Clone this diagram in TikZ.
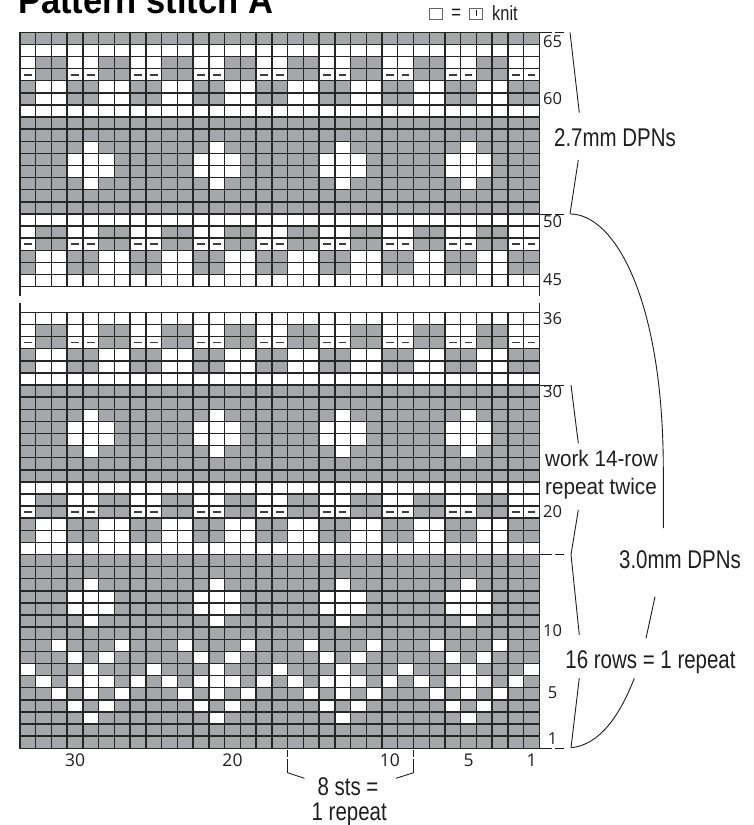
\documentclass[tikz,border=0pt]{standalone}
\usepackage{fontspec}
\setmainfont{Liberation Sans}
\newfontfamily\narrowf[FakeStretch=0.80]{Liberation Sans}
\newfontfamily\midf[FakeStretch=0.92]{Liberation Sans}
\newfontfamily\numf{Open Sans}
\newfontfamily\titlef[FakeStretch=0.92]{Liberation Sans Bold}
\definecolor{cellgray}{RGB}{166,167,170}
\definecolor{gridcol}{RGB}{38,38,38}
\definecolor{inkcol}{RGB}{30,30,30}
\definecolor{purlcol}{RGB}{60,60,60}
\definecolor{legcol}{RGB}{100,100,100}
% one chart row: #1 = row number, #2..#9 = cell type for column mod 8 (g grey, w white, d purl)
\newcommand\patrow[9]{%
  \pgfmathsetmacro\rowtop{(#1>40 ? 819.45 : 748.3) - 12.11*#1}%
  \foreach \col in {0,...,32}{%
    \pgfmathtruncatemacro\colmod{mod(\col,8)}%
    \ifcase\colmod\def\celltype{#2}\or\def\celltype{#3}\or\def\celltype{#4}\or\def\celltype{#5}\or\def\celltype{#6}\or\def\celltype{#7}\or\def\celltype{#8}\or\def\celltype{#9}\fi
    \if g\celltype\else
      \fill[white] (20+\col*15.74,\rowtop) rectangle ++(15.74,12.11);
      \if d\celltype
        \draw[purlmark] (20+\col*15.74+4.07,\rowtop+6.05) -- ++(7.6,0);
      \fi
    \fi
  }%
}
\begin{document}
\begin{tikzpicture}[x=1pt,y=-1pt,
  gridl/.style={draw=gridcol, line width=1.45},
  purlmark/.style={draw=purlcol, line width=1.7},
  bracketline/.style={draw=inkcol, line width=0.9},
  tickline/.style={draw=inkcol, line width=0.9, dash pattern=on 12.4pt off 3.3pt},
  lab/.style={font=\narrowf\fontsize{25.6}{30}\selectfont, inner sep=0pt, text=inkcol},
  midlab/.style={font=\midf\fontsize{22.5}{27}\selectfont, inner sep=0pt, text=inkcol},
  rownum/.style={font=\numf\fontsize{16.5}{18}\selectfont, inner sep=0pt, text=inkcol},
  colnum/.style={font=\numf\fontsize{17.5}{19}\selectfont, inner sep=0pt, text=inkcol},
  legbox/.style={draw=legcol, line width=0.9, fill=white, minimum width=13.4pt, minimum height=10.7pt, inner sep=0pt}
]
\useasboundingbox (0,0) rectangle (753,825);
\clip (0,0) rectangle (753,825);

% title
\node[anchor=base west, inner sep=0pt, text=black, font=\titlef\fontsize{37.5}{40}\selectfont] (title) at (18,13.3) {Pattern stitch A};

% legend
\node[legbox] (lb1) at (436,13.65) {};
\node[font=\narrowf\fontsize{21}{22}\selectfont, inner sep=0pt, text=inkcol] (leq) at (456.3,14.4) {=};
\node[legbox] (lb2) at (476.15,13.65) {};
\draw[draw=inkcol, line width=1] ([yshift=-2.8pt]lb2.center) -- ([yshift=3.2pt]lb2.center);
\node[font=\narrowf\fontsize{20.5}{22}\selectfont, inner sep=0pt, anchor=base west, text=inkcol] (lknit) at (492,20) {knit};

% grey backgrounds
\fill[cellgray] (20,312.34) rectangle (539.42,748.3);
\fill[cellgray] (20,32.3) rectangle (539.42,286.61);

% lower section rows 1-36
\patrow{3}{g}{g}{g}{g}{w}{g}{g}{g}
\patrow{4}{g}{g}{g}{w}{g}{w}{g}{g}
\patrow{5}{g}{g}{w}{g}{w}{g}{w}{g}
\patrow{6}{g}{w}{g}{w}{w}{w}{g}{w}
\patrow{7}{w}{g}{g}{g}{w}{g}{g}{g}
\patrow{8}{g}{g}{g}{w}{g}{w}{g}{g}
\patrow{9}{g}{g}{w}{g}{g}{g}{w}{g}
\patrow{11}{g}{g}{g}{g}{w}{g}{g}{g}
\patrow{12}{g}{g}{g}{w}{w}{w}{g}{g}
\patrow{13}{g}{g}{g}{w}{w}{w}{g}{g}
\patrow{14}{g}{g}{g}{g}{w}{g}{g}{g}
\patrow{17}{w}{w}{w}{w}{w}{w}{w}{w}
\patrow{18}{g}{w}{w}{g}{g}{w}{w}{g}
\patrow{19}{g}{w}{w}{g}{g}{w}{w}{g}
\patrow{20}{d}{g}{g}{d}{d}{g}{g}{d}
\patrow{21}{w}{g}{g}{w}{w}{g}{g}{w}
\patrow{22}{w}{w}{w}{w}{w}{w}{w}{w}
\patrow{25}{g}{g}{g}{g}{w}{g}{g}{g}
\patrow{26}{g}{g}{g}{w}{w}{w}{g}{g}
\patrow{27}{g}{g}{g}{w}{w}{w}{g}{g}
\patrow{28}{g}{g}{g}{g}{w}{g}{g}{g}
\patrow{31}{w}{w}{w}{w}{w}{w}{w}{w}
\patrow{32}{g}{w}{w}{g}{g}{w}{w}{g}
\patrow{33}{g}{w}{w}{g}{g}{w}{w}{g}
\patrow{34}{d}{g}{g}{d}{d}{g}{g}{d}
\patrow{35}{w}{g}{g}{w}{w}{g}{g}{w}
\patrow{36}{w}{w}{w}{w}{w}{w}{w}{w}
% upper section rows 45-65
\patrow{45}{w}{w}{w}{w}{w}{w}{w}{w}
\patrow{46}{g}{w}{w}{g}{g}{w}{w}{g}
\patrow{47}{g}{w}{w}{g}{g}{w}{w}{g}
\patrow{48}{d}{g}{g}{d}{d}{g}{g}{d}
\patrow{49}{w}{g}{g}{w}{w}{g}{g}{w}
\patrow{50}{w}{w}{w}{w}{w}{w}{w}{w}
\patrow{53}{g}{g}{g}{g}{w}{g}{g}{g}
\patrow{54}{g}{g}{g}{w}{w}{w}{g}{g}
\patrow{55}{g}{g}{g}{w}{w}{w}{g}{g}
\patrow{56}{g}{g}{g}{g}{w}{g}{g}{g}
\patrow{59}{w}{w}{w}{w}{w}{w}{w}{w}
\patrow{60}{g}{w}{w}{g}{g}{w}{w}{g}
\patrow{61}{g}{w}{w}{g}{g}{w}{w}{g}
\patrow{62}{d}{g}{g}{d}{d}{g}{g}{d}
\patrow{63}{w}{g}{g}{w}{w}{g}{g}{w}
\patrow{64}{w}{w}{w}{w}{w}{w}{w}{w}

% grid lines
\foreach \i in {0,...,33}{
  \draw[gridl] (20+\i*15.74,312.34) -- (20+\i*15.74,748.3);
  \draw[gridl] (20+\i*15.74,32.3) -- (20+\i*15.74,286.61);
}
\foreach \k in {0,...,36}{\draw[gridl] (19.3,748.3-\k*12.11) -- (540.12,748.3-\k*12.11);}
\foreach \k in {0,...,21}{\draw[gridl] (19.3,286.61-\k*12.11) -- (540.12,286.61-\k*12.11);}
% break marks at the cut between the two parts
\draw[gridl] (20,286.61) -- (20,295.7) (20,303.3) -- (20,312.34);
\draw[gridl] (539.42,286.61) -- (539.42,295.7) (539.42,303.3) -- (539.42,312.34);

% row numbers
\node[rownum] (n65) at (552.5,41.5) {65};
\node[rownum] (n60) at (552.5,99) {60};
\node[rownum] (n50) at (552.5,222) {50};
\node[rownum] (n45) at (552.5,280) {45};
\node[rownum] (n36) at (552.5,319) {36};
\node[rownum] (n30) at (552.5,391.5) {30};
\node[rownum] (n20) at (552.5,511.5) {20};
\node[rownum] (n10) at (552.5,630.5) {10};
\node[rownum] (n5) at (552.5,692.5) {5};
\node[rownum] (n1) at (552.5,738.5) {1};

% stitch numbers
\node[colnum] (s30) at (75.1,760) {30};
\node[colnum] (s20) at (232.5,760) {20};
\node[colnum] (s10) at (389.9,760) {10};
\node[colnum] (s5) at (468.6,760) {5};
\node[colnum] (s1) at (531.6,760) {1};

% tick marks at the ends of the braces
\coordinate (t65a) at (539.42,32.3);  \coordinate (t65b) at (564,32.3);
\coordinate (t50a) at (539.42,213.95); \coordinate (t50b) at (564,213.95);
\coordinate (t30a) at (539.42,385);   \coordinate (t30b) at (564,385);
\coordinate (t16a) at (539.42,554.54); \coordinate (t16b) at (564,554.54);
\coordinate (t1a) at (539.42,748.3);  \coordinate (t1b) at (564,748.3);
\draw[tickline] (t65a) -- (t65b);
\draw[tickline] (t50a) -- (t50b);
\draw[tickline] (t30a) -- (t30b);
\draw[tickline] (t16a) -- (t16b);
\draw[tickline] (t1a) -- (t1b);

% brace points
\coordinate (b1a) at (570,32.3);
\coordinate (b1b) at (579.3,112.7);
\coordinate (b1c) at (578.3,160);
\coordinate (b1d) at (570,213.95);
\coordinate (b2a) at (571,385);
\coordinate (b2b) at (578.3,443.3);
\coordinate (b2c) at (578.3,510);
\coordinate (b2d) at (571,554.54);
\coordinate (b3b) at (579.3,635);
\coordinate (b3c) at (579.3,678);
\coordinate (b3d) at (571,747.7);
\coordinate (c1) at (663.3,470);
\coordinate (c2) at (663.3,528);
\coordinate (c3) at (655,596.7);
\coordinate (c4) at (646,638.3);
\coordinate (c5) at (634.3,678.3);

% 2.7mm brace (rows 51-65)
\draw[bracketline] (b1a) -- (b1b);
\draw[bracketline] (b1c) -- (b1d);
% 14-row repeat brace (rows 17-30)
\draw[bracketline] (b2a) -- (b2b);
\draw[bracketline] (b2c) -- (b2d);
% 16-row repeat brace (rows 1-16)
\draw[bracketline] (b2d) -- (b3b);
\draw[bracketline] (b3c) -- (b3d);
% 3.0mm brace (rows 1-50)
\draw[bracketline] (b1d) .. controls (615,213.95) and (663.3,300) .. (c1) -- (c2);
\draw[bracketline] (c3) -- (c4);
\draw[bracketline] (c5) .. controls (620,715) and (600,745) .. (b3d);

% labels
\node[lab, anchor=base] (l27) at (615,146.7) {2.7mm DPNs};
\node[midlab, anchor=base] (l14a) at (601.5,466.5) {work 14-row};
\node[midlab, anchor=base] (l14b) at (601,494) {repeat twice};
\node[lab, anchor=base] (l30) at (680,568.3) {3.0mm DPNs};
\node[lab, anchor=base] (l16) at (650.5,668.3) {16 rows = 1 repeat};

% 8 sts bracket
\coordinate (sl1) at (287.6,750);
\coordinate (sl2) at (287.6,772.7);
\coordinate (sl3) at (304.5,778.3);
\coordinate (sr1) at (413.5,750);
\coordinate (sr2) at (413.5,772.7);
\coordinate (sr3) at (396,778.3);
\draw[bracketline, dash pattern=on 6.7pt off 2.6pt on 30pt off 0pt] (sl1) -- (sl2);
\draw[bracketline] (sl2) -- (sl3);
\draw[bracketline, dash pattern=on 6.7pt off 2.6pt on 30pt off 0pt] (sr1) -- (sr2);
\draw[bracketline] (sr2) -- (sr3);
\node[lab, anchor=base] (l8a) at (348,795) {8 sts =};
\node[lab, anchor=base] (l8b) at (349.2,820) {1 repeat};
\end{tikzpicture}
\end{document}
